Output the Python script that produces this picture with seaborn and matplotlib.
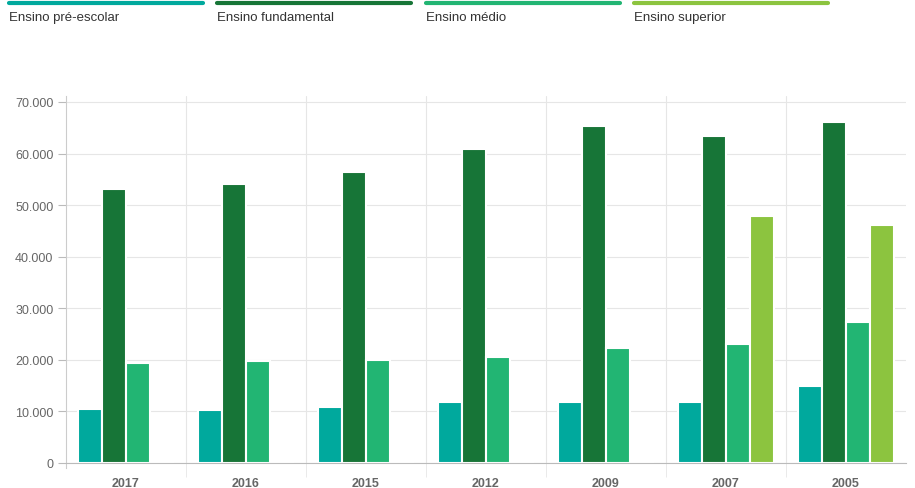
import pandas as pd
import matplotlib.pyplot as plt
import matplotlib.ticker as mticker
from matplotlib.lines import Line2D
import seaborn as sns

# dados
anos = ["2017", "2016", "2015", "2012", "2009", "2007", "2005"]
niveis = ["Ensino pré-escolar", "Ensino fundamental", "Ensino médio", "Ensino superior"]
pre_escolar = [10500, 10300, 10900, 11800, 11800, 11800, 14900]
fundamental = [53100, 54100, 56400, 60900, 65300, 63400, 66100]
medio = [19400, 19800, 20000, 20600, 22300, 23100, 27300]
superior = [0, 0, 0, 0, 0, 47900, 46200]
cores = ["#00a99d", "#177537", "#22b573", "#8cc43f"]

linhas = []
for nivel, valores in zip(niveis, [pre_escolar, fundamental, medio, superior]):
    for ano, v in zip(anos, valores):
        linhas.append({"Ano": ano, "Nível": nivel, "Alunos": v})
df = pd.DataFrame(linhas)

sns.set_style("white")
plt.rcParams['font.family'] = ['Liberation Sans', 'DejaVu Sans']

fig = plt.figure(figsize=(9.15, 4.89), dpi=100)
ax = fig.add_axes([66 / 915, 1 - 464 / 489, 840 / 915, 367 / 489])

sns.barplot(data=df, x="Ano", y="Alunos", hue="Nível", hue_order=niveis, order=anos,
            palette=cores, width=0.8, edgecolor="white", linewidth=1.5,
            saturation=1, legend=False, ax=ax)

ax.set_xlim(-0.5, 6.5)
ax.set_ylim(0, 71163)
ax.set_xlabel("")
ax.set_ylabel("")
ax.yaxis.set_major_locator(mticker.MultipleLocator(10000))
ax.yaxis.set_major_formatter(mticker.FuncFormatter(lambda v, p: f"{int(v):,}".replace(",", ".")))
ax.set_xticks(range(len(anos)))
ax.set_xticklabels(anos)
ax.set_xticks([i + 0.5 for i in range(len(anos) - 1)], minor=True)

ax.grid(axis="y", color="#e6e6e6", linewidth=0.8)
ax.grid(axis="x", which="minor", color="#e6e6e6", linewidth=0.8)
ax.set_axisbelow(True)
ax.tick_params(axis="y", left=True, length=6, color="#bbbbbb", labelsize=9, labelcolor="#666666", pad=3)
ax.tick_params(axis="x", which="major", bottom=False, length=0, labelsize=9, labelcolor="#666666", pad=10)
ax.tick_params(axis="x", which="minor", bottom=True, length=10, color="#e6e6e6")
for lab in ax.get_xticklabels():
    lab.set_fontweight("bold")

for lado in ["top", "right"]:
    ax.spines[lado].set_visible(False)
ax.spines["left"].set_color("#cccccc")
ax.spines["bottom"].set_color("#bbbbbb")
ax.spines["left"].set_bounds(-1000, 71163)

# legenda no topo: barra colorida e texto abaixo
inicios = [9, 217, 426, 634]
for x0, nivel, cor in zip(inicios, niveis, cores):
    fig.add_artist(Line2D([x0 / 915, (x0 + 194) / 915], [1 - 3.5 / 489, 1 - 3.5 / 489],
                          color=cor, linewidth=3, transform=fig.transFigure))
    fig.text(x0 / 915, 1 - 18 / 489, nivel, fontsize=9.5, color="#333333", va="center", ha="left")

plt.savefig("out.png", dpi=100)
plt.close()
